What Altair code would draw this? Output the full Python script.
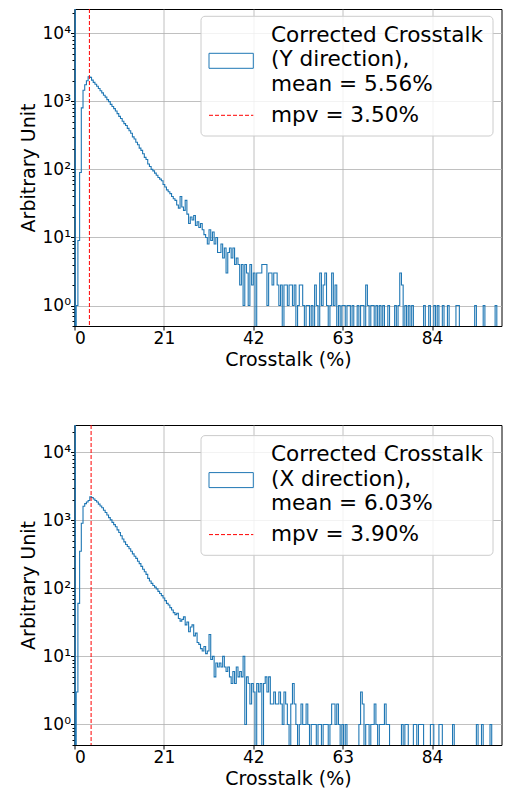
import altair as alt
import pandas as pd

# ---------------- data ----------------
BIN_W = 0.4          # histogram bin width (%)
BIG_FIRST_BIN = 1e5  # first narrow bin [0, 0.2) runs off the top of the axis

# top panel: Y direction (bins start at 0.4, width 0.4)
y_body = [1, 9, 90, 800, 1450, 1750, 2000, 2300, 2250, 2050,
          1900, 1780, 1660, 1540, 1430, 1330, 1230, 1150, 1060, 990,
          900, 840, 780, 720, 660, 600, 560, 510, 470, 440,
          400, 370, 340, 300, 280, 250, 230, 205, 190, 170,
          150, 140, 120, 110, 100, 95, 88, 82, 76, 72,
          68, 60, 55, 50, 47, 44, 40, 37, 35, 30,
          27, 40, 28, 25, 35, 22, 16, 20, 18, 21,
          15, 17, 14, 16, 13, 11, 10, 8, 13, 9,
          12, 8, 10, 6, 6, 8, 5, 7, 3, 6,
          7, 5, 7, 4, 5, 4, 2, 4, 1, 4,
          3, 1, 4, 2, 3]
y_tail_edges = [42.8, 43.2, 43.6, 44.0, 44.4, 44.8, 45.2, 45.6, 46.0, 46.4,
                46.8, 47.2, 47.6, 48.0, 48.4, 49.2, 49.6, 50.0, 50.4, 50.8,
                51.2, 51.6, 52.4, 52.8, 53.2, 53.6, 54.4, 54.8, 55.6, 56.4,
                56.8, 57.6, 58.0, 58.4, 58.8, 59.2, 60.0, 60.4, 60.8, 61.2,
                62.0, 62.8, 63.2, 64.0, 64.4, 65.2, 66.4, 67.2, 67.6, 68.4,
                68.8, 69.6, 70.0, 70.8, 71.6, 72.4, 73.6, 75.2, 76.0, 76.4,
                76.8, 77.6, 78.4, 79.2, 82.0, 83.2, 84.4, 85.2, 86.4, 87.6,
                89.6, 90.0, 94.0, 96.0, 98.8]
y_tail_counts = [3, 3, 3, 4, 4, 4, 1, 3, 3, 2,
                 3, 3, 2, 1, 2, 2, 2, 1, 2, 2,
                 1, 2, 1, 2, 2, 1, 1, 1, 1, 2,
                 1, 3, 1, 2, 3, 1, 1, 3, 1, 2,
                 1, 1, 1, 1, 1, 1, 1, 1, 1, 2,
                 1, 1, 1, 1, 1, 1, 1, 1, 1, 3,
                 2, 1, 1, 1, 1, 1, 1, 1, 1, 1,
                 1, 1, 1, 1, 1]

# bottom panel: X direction
x_body = [3, 60, 350, 900, 1600, 1750, 1850, 1950, 2200, 2150,
          2050, 1950, 1850, 1720, 1620, 1520, 1400, 1300, 1190, 1090,
          1010, 930, 860, 800, 720, 660, 590, 530, 480, 440,
          410, 380, 350, 320, 295, 275, 250, 230, 210, 190,
          175, 160, 140, 128, 118, 110, 104, 98, 90, 84,
          78, 72, 66, 60, 57, 52, 48, 44, 41, 43,
          36, 33, 35, 38, 29, 32, 23, 27, 29, 20,
          22, 16, 15, 13, 12, 14, 11, 12, 21, 9,
          10, 5, 8, 7, 8, 7, 10, 7, 6, 7,
          5, 4, 6, 4, 7, 5, 6, 5, 10]
x_tail_edges = [40.0, 40.4, 40.8, 41.2, 41.6, 42.0, 42.8, 43.2, 43.6, 44.4,
                44.8, 45.2, 45.6, 46.0, 46.4, 46.8, 47.2, 47.6, 48.0, 48.4,
                48.8, 49.2, 49.6, 50.0, 50.8, 51.2, 51.6, 52.0, 52.8, 53.2,
                53.6, 54.0, 54.4, 54.8, 55.6, 56.0, 56.4, 57.2, 57.6, 58.4,
                58.8, 59.2, 60.0, 60.4, 60.8, 61.2, 61.6, 62.0, 62.8, 63.6,
                66.8, 67.2, 67.6, 68.4, 68.8, 69.6, 70.0, 70.4, 70.8, 71.6,
                72.0, 72.4, 72.8, 73.2, 73.6, 76.8, 77.6, 78.0, 79.6, 80.0,
                80.8, 81.2, 81.6, 83.6, 84.0, 85.6, 86.0, 88.8, 94.4, 95.6,
                97.6]
x_tail_counts = [1, 5, 4, 2, 4, 3, 4, 3, 4, 4,
                 5, 3, 5, 2, 2, 3, 2, 2, 3, 2,
                 1, 3, 2, 1, 2, 4, 2, 1, 1, 2,
                 1, 1, 2, 1, 1, 1, 1, 1, 1, 1,
                 1, 1, 1, 2, 2, 1, 2, 1, 1, 1,
                 1, 3, 2, 1, 1, 1, 1, 2, 1, 1,
                 1, 1, 2, 1, 1, 1, 1, 1, 1, 1,
                 1, 1, 1, 1, 1, 1, 1, 1, 1, 1,
                 1]

labels_y = ["Corrected Crosstalk", "(Y direction),", "mean = 5.56%", "mpv = 3.50%"]
labels_x = ["Corrected Crosstalk", "(X direction),", "mean = 6.03%", "mpv = 3.90%"]
mpv_y = 3.50
mpv_x = 3.90

x_ticks = [0, 21, 42, 63, 84]
y_ticks = [1, 10, 100, 1000, 10000]

# ---------------- build step outline ----------------
ZERO = 0.01  # stands in for empty bins (below the log axis, clipped)


def step_points(body, tail_edges, tail_counts):
    edges = [0.0, 0.2]
    counts = [BIG_FIRST_BIN, 0]
    for k, c in enumerate(body):
        edges.append(round(0.4 + BIN_W * k, 2))
        counts.append(c)
    tail = {round(e, 2): c for e, c in zip(tail_edges, tail_counts)}
    last = max(tail)
    e = round(edges[-1] + BIN_W, 2)
    while e <= last + 1e-9:
        edges.append(e)
        counts.append(tail.get(e, 0))
        e = round(e + BIN_W, 2)
    pts = [(0.0, ZERO)]
    for ed, c in zip(edges, counts):
        pts.append((ed, c if c > 0 else ZERO))
    end = round(edges[-1] + BIN_W, 2)
    pts.append((end, counts[-1]))
    pts.append((end, ZERO))
    return pd.DataFrame({"x": [p[0] for p in pts], "y": [p[1] for p in pts],
                         "i": list(range(len(pts)))})


def minor_values(lo, hi):
    vals = []
    for p in range(-1, 5):
        for m in range(2, 10):
            v = m * 10 ** p
            if lo <= v <= hi:
                vals.append(v)
    return vals


FONT = "DejaVu Sans"
LABEL_EXPR = ("datum.value == 1 ? '10\u2070' : datum.value == 10 ? '10\u00b9' : "
              "datum.value == 100 ? '10\u00b2' : datum.value == 1000 ? '10\u00b3' : '10\u2074'")


def panel(body, tail_edges, tail_counts, mpv, labels, ytop, height, dy):
    df = step_points(body, tail_edges, tail_counts)
    xs = alt.Scale(domain=[0, 100.3], nice=False, zero=False)
    ys = alt.Scale(type="log", domain=[0.5, ytop], nice=False)
    hist = alt.Chart(df).mark_line(
        interpolate="step-after", clip=True, color="#1f77b4", strokeWidth=1.1
    ).encode(
        x=alt.X("x:Q", scale=xs, axis=alt.Axis(values=x_ticks, title="Crosstalk (%)")),
        y=alt.Y("y:Q", scale=ys, axis=alt.Axis(values=y_ticks, labelExpr=LABEL_EXPR,
                                              title="Arbitrary Unit")),
        order="i:Q",
    )
    minor = alt.Chart(pd.DataFrame({"v": minor_values(0.5, ytop)})).mark_point(opacity=0).encode(
        y=alt.Y("v:Q", scale=ys, axis=alt.Axis(values=minor_values(0.5, ytop), labels=False,
                                              grid=False, domain=False, tickSize=2.5,
                                              orient="left", title=""))
    )
    rule = alt.Chart(pd.DataFrame({"m": [mpv]})).mark_rule(
        color="red", strokeDash=[4, 2], strokeWidth=1
    ).encode(x=alt.X("m:Q", scale=xs))

    box = alt.Chart(pd.DataFrame({"a": [0]})).mark_rect(
        fill="white", fillOpacity=0.8, stroke="#cccccc", strokeWidth=1, cornerRadius=4
    ).encode(x=alt.value(126.5), x2=alt.value(418.5), y=alt.value(10.6 + dy), y2=alt.value(130.3 + dy))
    patch = alt.Chart(pd.DataFrame({"a": [0]})).mark_rect(
        fill="white", stroke="#1f77b4", strokeWidth=1
    ).encode(x=alt.value(134.5), x2=alt.value(178.8), y=alt.value(47.6 + dy), y2=alt.value(62.6 + dy))
    leg_line = alt.Chart(pd.DataFrame({"a": [0]})).mark_rule(
        color="red", strokeDash=[4, 2], strokeWidth=1
    ).encode(x=alt.value(134.5), x2=alt.value(178.8), y=alt.value(109.6 + dy))
    texts = []
    for lab, by in zip(labels, [36.0, 60.6, 85.3, 115.8]):
        texts.append(alt.Chart(pd.DataFrame({"t": [lab]})).mark_text(
            align="left", baseline="alphabetic", font=FONT, fontSize=21.6, color="black"
        ).encode(x=alt.value(196.5), y=alt.value(by + dy), text="t:N"))

    return alt.layer(hist, minor, rule, box, patch, leg_line, *texts).resolve_axis(
        y="independent").properties(width=427, height=height)


top = panel(y_body, y_tail_edges, y_tail_counts, mpv_y, labels_y, 22700, 317, -3.3)
bottom = panel(x_body, x_tail_edges, x_tail_counts, mpv_x, labels_x, 25000, 320, 0)

chart = alt.vconcat(top, bottom, spacing=54).properties(
    padding={"left": 10.5, "top": 0, "right": 0, "bottom": 0}
).configure_view(stroke="black", strokeWidth=1).configure_axis(
    labelFont=FONT, titleFont=FONT, labelFontSize=17, titleFontSize=19,
    titleFontWeight="normal", labelColor="black", titleColor="black",
    tickColor="black", tickSize=4, domainColor="black", gridColor="#b0b0b0",
    gridWidth=0.8, labelPadding=0, titlePadding=4,
)

chart.save("out.html", embed_options={"renderer": "svg", "actions": False})
